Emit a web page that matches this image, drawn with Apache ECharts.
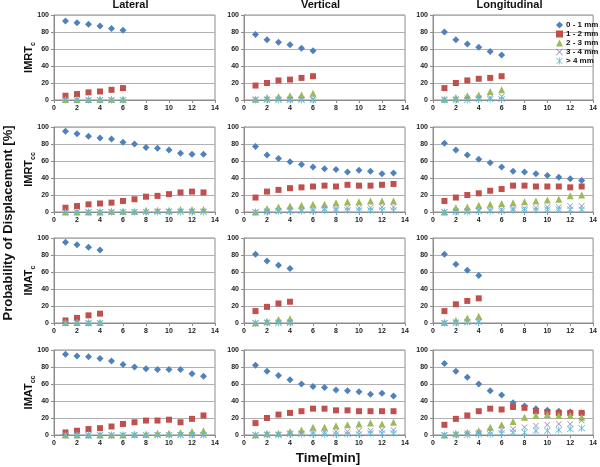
<!DOCTYPE html>
<html>
<head>
<meta charset="utf-8">
<script src="https://cdn.jsdelivr.net/npm/echarts@6/dist/echarts.min.js"></script>
<style>html,body{margin:0;padding:0;background:#fff}#c{width:600px;height:467px}</style>
</head>
<body>
<div id="c"></div>
<script>
// ---- Data ----
const seriesNames = ['0 - 1 mm', '1 - 2 mm', '2 - 3 mm', '3 - 4 mm', '> 4 mm'];
const colTitles = ['Lateral', 'Vertical', 'Longitudinal'];
const rowLabels = [['IMRT', 'c'], ['IMRT', 'cc'], ['IMAT', 'c'], ['IMAT', 'cc']];
const xTicks = [0, 2, 4, 6, 8, 10, 12, 14];
const yTicks = [0, 20, 40, 60, 80, 100];

const t4 = [1, 2, 3, 4];
const t6 = [1, 2, 3, 4, 5, 6];
const t13 = [1, 2, 3, 4, 5, 6, 7, 8, 9, 10, 11, 12, 13];

// IMRT_c
const imrtcLateral = [
  [93, 91, 89, 87, 84, 82],
  [5, 7, 9, 10, 12, 14],
  [0.5, 0.5, 0.5, 0.5, 1, 1],
  [0, 0, 0, 0, 0, 0],
  [0, 0, 0, 0, 0, 0]
];
const imrtcVertical = [
  [77, 71, 68, 65, 61, 58],
  [17, 20, 23, 24, 26, 28],
  [1, 3, 4, 5, 6, 8],
  [1, 1, 1, 1, 1, 1],
  [0, 0, 0, 0, 0, 0]
];
const imrtcLongitudinal = [
  [80, 71, 66, 62, 57, 53],
  [14, 20, 23, 25, 26, 28],
  [1, 3, 5, 6, 10, 12],
  [1, 1, 2, 2, 3, 4],
  [0, 0, 0, 1, 1, 1]
];
// IMRT_cc
const imrtccLateral = [
  [95, 92, 89, 87, 86, 82, 80, 76, 75, 73, 69, 68, 68],
  [5, 7, 9, 10, 11, 13, 15, 18, 19, 21, 23, 24, 23],
  [0, 0, 0, 0, 1, 1, 1, 2, 2, 2, 3, 3, 3],
  [0, 0, 0, 0, 0, 0, 0, 0, 1, 1, 1, 1, 1],
  [0, 0, 0, 0, 0, 0, 0, 0, 0, 0, 0, 0, 0]
];
const imrtccVertical = [
  [77, 67, 63, 59, 56, 53, 51, 50, 47, 49, 48, 45, 46],
  [17, 24, 26, 28, 29, 30, 31, 30, 32, 31, 31, 32, 33],
  [0, 4, 6, 7, 8, 9, 9, 11, 12, 12, 13, 13, 13],
  [0, 1, 1, 2, 2, 3, 4, 4, 5, 5, 5, 6, 6],
  [0, 0, 1, 1, 1, 1, 2, 2, 2, 2, 2, 2, 2]
];
const imrtccLongitudinal = [
  [81, 73, 67, 62, 58, 53, 48, 47, 45, 43, 41, 39, 37],
  [13, 17, 20, 22, 25, 27, 31, 31, 30, 30, 30, 29, 30],
  [0, 5, 6, 8, 9, 10, 11, 12, 13, 14, 15, 19, 20],
  [0, 1, 1, 2, 2, 3, 4, 4, 5, 6, 6, 7, 7],
  [0, 0, 0, 1, 1, 1, 2, 2, 2, 3, 3, 3, 3]
];
// IMAT_c
const imatcLateral = [
  [95, 92, 89, 86],
  [3, 6, 9, 11],
  [0.5, 0.5, 0.5, 0.5],
  [0, 0, 0, 0],
  [0, 0, 0, 0]
];
const imatcVertical = [
  [81, 73, 68, 64],
  [14, 19, 23, 25],
  [0, 2, 4, 5],
  [0, 1, 1, 1],
  [0, 0, 0, 0]
];
const imatcLongitudinal = [
  [81, 69, 62, 56],
  [14, 22, 26, 29],
  [1, 3, 6, 8],
  [0, 1, 1, 2],
  [0, 0, 1, 1]
];
// IMAT_cc
const imatccLateral = [
  [95, 93, 92, 90, 87, 83, 80, 78, 77, 77, 77, 72, 69],
  [3, 5, 7, 8, 10, 13, 15, 17, 17, 18, 15, 19, 23],
  [0, 0, 0, 0, 0, 0, 1, 1, 2, 2, 3, 4, 5],
  [0, 0, 0, 0, 0, 0, 0, 0, 0, 0, 0, 0, 0],
  [0, 0, 0, 0, 0, 0, 0, 0, 0, 0, 0, 0, 0]
];
const imatccVertical = [
  [82, 75, 70, 65, 60, 57, 56, 53, 52, 51, 48, 49, 46],
  [14, 20, 24, 26, 28, 31, 31, 29, 29, 28, 28, 28, 28],
  [0, 2, 2, 4, 6, 9, 9, 11, 12, 13, 14, 13, 15],
  [0, 1, 1, 2, 2, 3, 3, 4, 4, 5, 5, 6, 6],
  [0, 0, 0, 1, 1, 1, 1, 1, 1, 1, 2, 2, 2]
];
const imatccLongitudinal = [
  [84, 75, 68, 60, 52, 47, 38, 34, 31, 29, 28, 27, 26],
  [12, 19, 23, 28, 31, 30, 33, 32, 28, 27, 26, 26, 26],
  [0, 2, 3, 5, 9, 12, 16, 21, 23, 24, 23, 23, 21],
  [0, 1, 2, 3, 4, 6, 7, 9, 11, 12, 13, 13, 17],
  [0, 0, 0, 1, 1, 2, 3, 3, 5, 5, 6, 7, 8]
];

const panels = [
  [t6, imrtcLateral], [t6, imrtcVertical], [t6, imrtcLongitudinal],
  [t13, imrtccLateral], [t13, imrtccVertical], [t13, imrtccLongitudinal],
  [t4, imatcLateral], [t4, imatcVertical], [t4, imatcLongitudinal],
  [t13, imatccLateral], [t13, imatccVertical], [t13, imatccLongitudinal]
];

// ---- Styles ----
const colors = ['#4F81BD', '#C0504D', '#9BBB59', '#9A84BA', '#5BC0DA'];
const xPath = 'path://M0,0.8 L0.8,0 L5,4.2 L9.2,0 L10,0.8 L5.8,5 L10,9.2 L9.2,10 L5,5.8 L0.8,10 L0,9.2 L4.2,5 Z';
const starPath = 'path://M0,0.8 L0.8,0 L5,4.2 L9.2,0 L10,0.8 L5.8,5 L10,9.2 L9.2,10 L5,5.8 L0.8,10 L0,9.2 L4.2,5 Z M4.4,-0.5 L5.6,-0.5 L5.6,10.5 L4.4,10.5 Z';
const symbols = ['diamond', 'rect', 'triangle', xPath, starPath];
const sizes = [7, 6, 7, 6, 7];
const FONT = 'Liberation Sans, Arial, sans-serif';

const colLeft = [54, 244, 433];
const rowTop = [15, 127, 238, 350];
const gw = 161, gh = 85;

const grids = [], xAxes = [], yAxes = [], series = [];
const axisFont = { fontSize: 7, fontWeight: 'bold', color: '#222', fontFamily: FONT };

for (let r = 0; r < 4; r++) {
  for (let c = 0; c < 3; c++) {
    const i = r * 3 + c;
    grids.push({ left: colLeft[c], top: rowTop[r], width: gw, height: gh, show: true, borderColor: '#8c8c8c', borderWidth: 1, backgroundColor: 'transparent' });
    xAxes.push({
      type: 'value', gridIndex: i, min: xTicks[0], max: xTicks[xTicks.length - 1], interval: 2,
      axisLine: { onZero: false, lineStyle: { color: '#8c8c8c' } },
      axisTick: { show: true, length: 3, lineStyle: { color: '#8c8c8c' } },
      axisLabel: Object.assign({ margin: 5 }, axisFont),
      splitLine: { show: false }
    });
    yAxes.push({
      type: 'value', gridIndex: i, min: yTicks[0], max: yTicks[yTicks.length - 1], interval: 20,
      axisLine: { show: true, lineStyle: { color: '#8c8c8c' } },
      axisTick: { show: true, length: 3, lineStyle: { color: '#8c8c8c' } },
      axisLabel: Object.assign({ margin: 5 }, axisFont),
      splitLine: { show: true, lineStyle: { color: '#b0b0b0', width: 1 } }
    });
    const [tt, vals] = panels[i];
    for (let s = 0; s < 5; s++) {
      series.push({
        name: seriesNames[s], type: 'scatter', xAxisIndex: i, yAxisIndex: i,
        symbol: symbols[s], symbolSize: sizes[s],
        itemStyle: { color: colors[s], opacity: 1 },
        data: tt.map((t, k) => [t, vals[s][k]]),
        emphasis: { disabled: true }, animation: false, z: 2 + s
      });
    }
  }
}

const graphics = [];
colTitles.forEach((t, c) => {
  graphics.push({ type: 'text', x: colLeft[c] + gw / 2 - 4, y: 5, style: { text: t, fontSize: 11, fontWeight: 'bold', fill: '#111', fontFamily: FONT, textAlign: 'center', textVerticalAlign: 'middle' } });
});
rowLabels.forEach((lab, r) => {
  graphics.push({
    type: 'text', x: 29, y: rowTop[r] + gh / 2, rotation: Math.PI / 2,
    style: {
      text: '{a|' + lab[0] + '}{b|' + lab[1] + '}',
      textAlign: 'center', textVerticalAlign: 'middle',
      rich: {
        a: { fontSize: 11, fontWeight: 'bold', fill: '#111', fontFamily: FONT, verticalAlign: 'middle', lineHeight: 16 },
        b: { fontSize: 7, fontWeight: 'bold', fill: '#111', fontFamily: FONT, verticalAlign: 'bottom', lineHeight: 7 }
      }
    }
  });
});
graphics.push({
  type: 'text', x: 8, y: 223, rotation: Math.PI / 2,
  style: { text: 'Probability of Displacement [%]', fontSize: 13, fontWeight: 'bold', fill: '#111', fontFamily: FONT, textAlign: 'center', textVerticalAlign: 'middle' }
});
graphics.push({
  type: 'text', x: 328, y: 458,
  style: { text: 'Time[min]', fontSize: 13.5, fontWeight: 'bold', fill: '#111', fontFamily: FONT, textAlign: 'center', textVerticalAlign: 'middle' }
});

const chart = echarts.init(document.getElementById('c'), null, { renderer: 'canvas' });
chart.setOption({
  animation: false,
  backgroundColor: '#fff',
  grid: grids, xAxis: xAxes, yAxis: yAxes, series: series,
  legend: {
    orient: 'vertical', left: 551, top: 16, itemGap: 1, itemWidth: 7, itemHeight: 7,
    selectedMode: false,
    textStyle: { fontSize: 8, fontWeight: 'bold', color: '#111', fontFamily: FONT, padding: [0, 0, 0, -2] },
    data: seriesNames.map((n, s) => ({ name: n, icon: symbols[s], itemStyle: { color: colors[s] } }))
  },
  graphic: graphics
});
</script>
</body>
</html>
